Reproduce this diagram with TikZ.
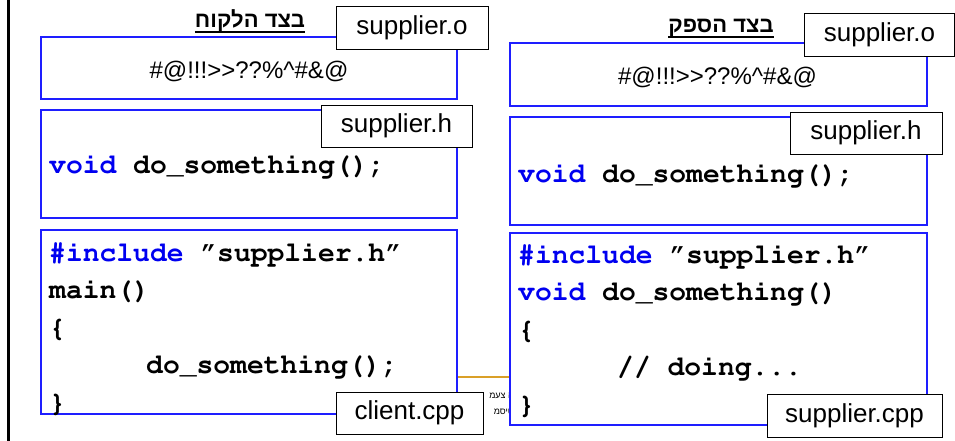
\documentclass[tikz,border=0pt]{standalone}
\usepackage[T1]{fontenc}
\usepackage{fontspec}
\setmainfont{Liberation Sans}
\newfontfamily\hebfont[Script=Hebrew]{Liberation Sans}
\newcommand\courb{\fontencoding{T1}\fontfamily{pcr}\fontseries{b}\fontshape{n}\fontsize{28}{32}\selectfont}
\TeXXeTstate=1
\definecolor{kwblue}{RGB}{0,0,240}
\definecolor{boxblue}{RGB}{30,30,255}
\definecolor{footgold}{RGB}{218,160,40}
\newcommand\kwd[1]{\textcolor{kwblue}{#1}}
\newcommand\cq{\textquotedblright}
\tikzset{
  srcbox/.style={draw=boxblue, line width=1.3pt, fill=white, inner sep=0pt},
  filelabel/.style={draw=black, line width=0.9pt, fill=white, inner sep=0pt,
    font=\fontsize{26}{30}\selectfont},
  codeline/.style={anchor=base west, inner sep=0pt, font=\courb},
  junk/.style={anchor=base, inner sep=0pt, font=\fontsize{24}{28}\selectfont},
  sidetitle/.style={anchor=base, inner sep=0pt,
    font=\hebfont\bfseries\fontsize{22}{26}\selectfont},
  foot/.style={anchor=base east, inner sep=0pt, font=\hebfont\fontsize{9}{10}\selectfont}
}
\begin{document}
\begin{tikzpicture}[x=1pt,y=-1pt]
\useasboundingbox (0,0) rectangle (955,441);
\fill[white] (0,0) rectangle (955,441);
% left black bar
\coordinate (bartop) at (8.5,0);
\coordinate (barbot) at (8.5,441);
\draw[line width=3pt] (bartop) -- (barbot);
% background footer fragments
\coordinate (g1) at (420,377);
\coordinate (g2) at (560,377);
\draw[footgold, line width=1.5pt] (g1) -- (g2);
\node[foot] (f1) at (514,398) {\beginR ה צעמ\endR};
\node[foot] (f2) at (514,414) {\beginR טיסמ\endR};

% ---------- left side (client) ----------
\node[sidetitle] (tl) at (250,28) {\beginR בצד הלקוח\endR};
\draw[line width=1.3pt] ([yshift=-4pt]tl.base west) -- ([yshift=-4pt]tl.base east);
\node[srcbox, minimum width=416pt, minimum height=62pt] (lo) at (249,68) {};
\node[junk] (lot) at (249,79) {\#@!!!>\kern0pt>??\%\^{}\#\&@};
\node[srcbox, minimum width=416pt, minimum height=108pt] (lh) at (249,164) {};
\node[codeline] (lht) at (49,173) {\kwd{void} do\_something();};
\node[srcbox, minimum width=416pt, minimum height=184pt] (lc) at (249,322) {};
\node[codeline] (lc1) at (49,261) {\kwd{\#include} \cq supplier.h\cq};
\node[codeline] (lc2) at (49,298.5) {main()};
\node[codeline] (lc3) at (49,336) {\{};
\node[codeline] (lc4) at (146,373.5) {do\_something();};
\node[codeline] (lc5) at (49,411) {\}};
\node[filelabel, minimum width=152pt, minimum height=43pt] (lol) at (412,27.5) {supplier.o};
\node[filelabel, minimum width=151pt, minimum height=42pt] (lhl) at (396.5,126) {supplier.h};
\node[filelabel, minimum width=147pt, minimum height=42pt] (lcl) at (409.5,413) {client.cpp};

% ---------- right side (supplier) ----------
\node[sidetitle] (tr) at (721,33) {\beginR בצד הספק\endR};
\draw[line width=1.3pt] ([yshift=-4pt]tr.base west) -- ([yshift=-4pt]tr.base east);
\node[srcbox, minimum width=417pt, minimum height=63pt] (ro) at (718.5,74.5) {};
\node[junk] (rot) at (717.5,85) {\#@!!!>\kern0pt>??\%\^{}\#\&@};
\node[srcbox, minimum width=417pt, minimum height=108pt] (rh) at (718.5,171) {};
\node[codeline] (rht) at (518,182) {\kwd{void} do\_something();};
\node[srcbox, minimum width=417pt, minimum height=192pt] (rc) at (718.5,329) {};
\node[codeline] (rc1) at (518,263) {\kwd{\#include} \cq supplier.h\cq};
\node[codeline] (rc2) at (518,300.5) {\kwd{void} do\_something()};
\node[codeline] (rc3) at (518,338) {\{};
\node[codeline] (rc4) at (617,375.5) {// doing...};
\node[codeline] (rc5) at (518,413) {\}};
\node[filelabel, minimum width=150pt, minimum height=43pt] (rol) at (879.5,34.5) {supplier.o};
\node[filelabel, minimum width=152pt, minimum height=42pt] (rhl) at (866,133) {supplier.h};
\node[filelabel, minimum width=175pt, minimum height=43pt] (rcl) at (854.5,415.5) {supplier.cpp};
\end{tikzpicture}
\end{document}
